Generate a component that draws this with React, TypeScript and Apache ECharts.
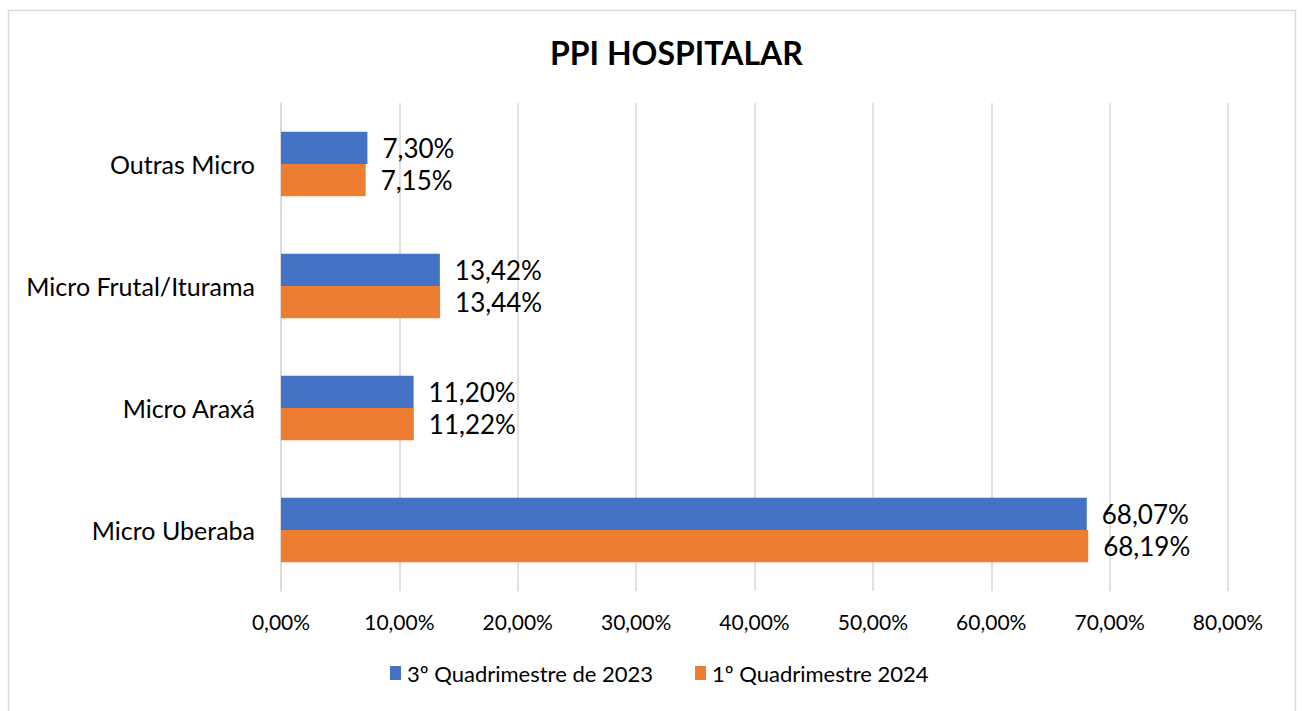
import React, { useEffect, useRef } from "react";
import * as echarts from "echarts";

const categories = ["Micro Uberaba", "Micro Araxá", "Micro Frutal/Iturama", "Outras Micro"];
const series2023 = [68.07, 11.2, 13.42, 7.3];
const series2024 = [68.19, 11.22, 13.44, 7.15];
const seriesNames = ["3º Quadrimestre de 2023", "1º Quadrimestre 2024"];
const titleText = "PPI HOSPITALAR";

const fmt = (v: number) => v.toFixed(2).replace(".", ",") + "%";
const FONT = "Lato";

const labelCfg = {
  show: true,
  position: "right",
  distance: 15,
  formatter: (p: any) => fmt(p.value),
  fontFamily: FONT,
  fontSize: 26,
  color: "#000",
};

export default function App() {
  const ref = useRef<HTMLDivElement>(null);
  useEffect(() => {
    if (!ref.current) return;
    const chart = echarts.init(ref.current, undefined, { renderer: "svg" });
    chart.setOption({
      animation: false,
      backgroundColor: "#fff",
      title: {
        text: titleText,
        left: 545,
        top: 31,
        textStyle: { fontFamily: FONT, fontWeight: "bold", fontSize: 32, color: "#000" },
      },
      legend: {
        data: seriesNames,
        bottom: 22,
        left: 385,
        itemWidth: 11,
        itemHeight: 14,
        itemGap: 42,
        icon: "rect",
        textStyle: { fontFamily: FONT, fontSize: 22, color: "#000", padding: [0, 0, 0, 1] },
      },
      grid: { left: 281, right: 74, top: 103, bottom: 120, containLabel: false },
      xAxis: {
        type: "value",
        min: 0,
        max: 80,
        interval: 10,
        axisLine: { show: false },
        axisTick: { show: false },
        splitLine: { lineStyle: { color: "#d9d9d9", width: 1.5 } },
        axisLabel: {
          formatter: (v: number) => fmt(v),
          fontFamily: FONT,
          fontSize: 21,
          color: "#000",
          margin: 20,
        },
      },
      yAxis: {
        type: "category",
        data: categories,
        axisLine: { lineStyle: { color: "#d9d9d9", width: 1.5 } },
        axisTick: { show: false },
        axisLabel: { fontFamily: FONT, fontSize: 25, color: "#000", margin: 26 },
      },
      series: [
        {
          name: seriesNames[0],
          type: "bar",
          data: series2023,
          itemStyle: { color: "#4472C4" },
          barGap: "0%",
          barCategoryGap: "47%",
          label: labelCfg,
        },
        {
          name: seriesNames[1],
          type: "bar",
          data: series2024,
          itemStyle: { color: "#ED7D31" },
          barGap: "0%",
          barCategoryGap: "47%",
          label: labelCfg,
        },
      ],
      graphic: [
        {
          type: "rect",
          shape: { x: 8.5, y: 10.5, width: 1287, height: 720 },
          style: { fill: "none", stroke: "#d9d9d9", lineWidth: 1.5 },
          silent: true,
          z: -1,
        },
      ],
    });
    return () => chart.dispose();
  }, []);
  return (
    <div
      ref={ref}
      style={{ position: "absolute", left: 0, top: 0, width: 1302, height: 711 }}
    />
  );
}
